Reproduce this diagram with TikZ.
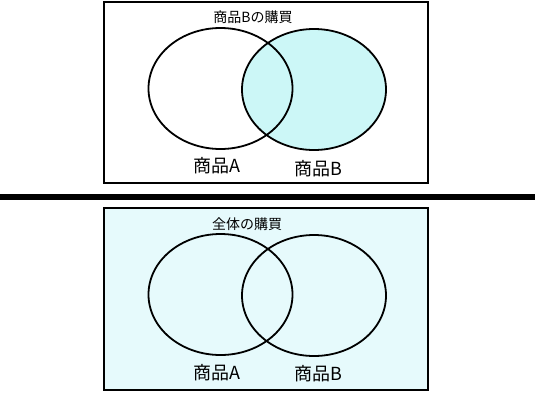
\documentclass[tikz,border=0pt]{standalone}
\usepackage{fontspec}
\setmainfont{Noto Sans CJK JP}
\usetikzlibrary{shapes.geometric}
\definecolor{setfill}{HTML}{CCF7F7}
\definecolor{allfill}{HTML}{E6FAFC}

\begin{document}
\begin{tikzpicture}[x=1pt, y=-1pt]
    \tikzstyle{FrameStyle}=[draw, line width = 1.8pt]
    \tikzstyle{SetStyle}=[shape = ellipse, draw, line width = 1.8pt, minimum width = 144pt, minimum height = 121pt, inner sep = 0pt]
    \tikzstyle{LabelStyle}=[font = \fontsize{18}{18}\selectfont, inner sep = 0pt]
    \tikzstyle{TitleStyle}=[font = \fontsize{14}{14}\selectfont, inner sep = 0pt]
    \useasboundingbox (0,0) rectangle (535,400);
   % upper panel
   \draw[FrameStyle] (104,2) rectangle (428,183);
   \node[SetStyle, fill = setfill] (B1) at (314,89.5) {};
   \node[SetStyle] (A1) at (220.5,88.5) {};
   \node[TitleStyle] (T1) at (253,17) {商品Bの購買};
   \node[LabelStyle] (LA1) at (217,166) {商品A};
   \node[LabelStyle] (LB1) at (318,169) {商品B};
   % separator
   \coordinate (S1) at (0,197);
   \coordinate (S2) at (535,197);
   \draw[line width = 5.5pt] (S1) -- (S2);
   % lower panel
   \draw[FrameStyle, fill = allfill] (104,208) rectangle (428,390);
   \node[SetStyle] (A2) at (220.5,294.5) {};
   \node[SetStyle] (B2) at (314,295.5) {};
   \node[TitleStyle] (T2) at (247,224) {全体の購買};
   \node[LabelStyle] (LA2) at (217,373) {商品A};
   \node[LabelStyle] (LB2) at (318,374) {商品B};
  \end{tikzpicture}
\end{document}
